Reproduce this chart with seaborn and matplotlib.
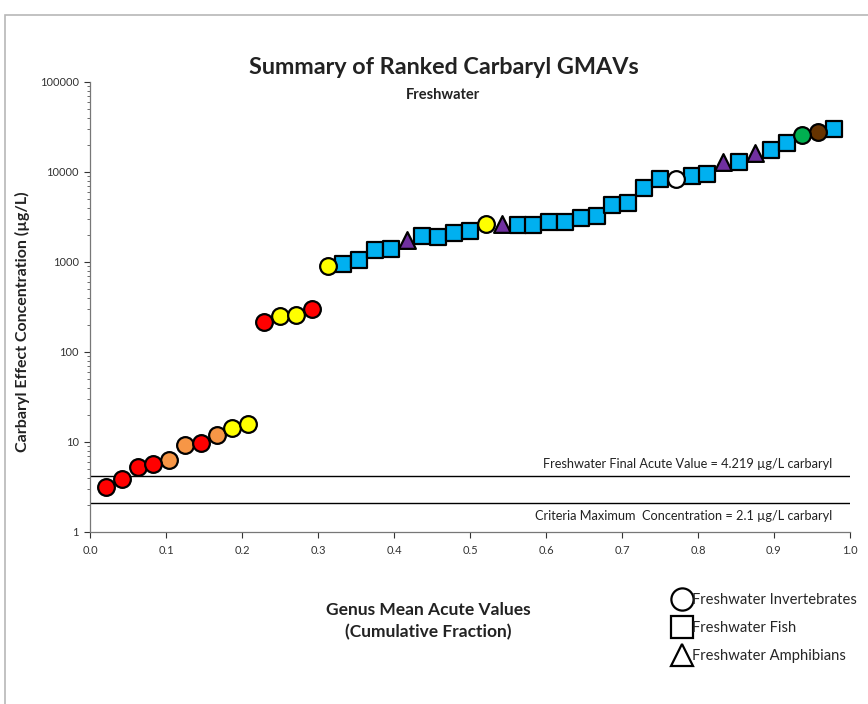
import numpy as np
import pandas as pd
import matplotlib
matplotlib.use("Agg")
import matplotlib.pyplot as plt
from matplotlib.lines import Line2D
from matplotlib.patches import Rectangle
import seaborn as sns

# ---- data ----
gmav = [3.2, 3.9, 5.3, 5.7, 6.3, 9.3, 9.8, 12, 14.3, 15.8,
        215, 250, 257, 300,
        900, 950, 1050, 1350, 1390, 1750, 1950, 1900, 2100, 2200,
        2650, 2650, 2600, 2600, 2800, 2800, 3100, 3250, 4300, 4500,
        6600, 8300, 8300, 9000, 9500, 13000, 12900, 16300, 17500, 21000,
        25800, 27800, 30000]
taxon = (["Invertebrates"] * 10 + ["Invertebrates"] * 4 + ["Invertebrates"]
         + ["Fish"] * 4 + ["Amphibians"] + ["Fish"] * 4 + ["Invertebrates"]
         + ["Amphibians"] + ["Fish"] * 10 + ["Invertebrates"] + ["Fish"] * 2
         + ["Amphibians", "Fish", "Amphibians", "Fish", "Fish",
            "Invertebrates", "Invertebrates", "Fish"])
fill = (["red", "red", "red", "red", "orange", "orange", "red", "orange", "yellow", "yellow"]
        + ["red", "yellow", "yellow", "red"]
        + ["yellow"] + ["blue"] * 4 + ["purple"] + ["blue"] * 4 + ["yellow"]
        + ["purple"] + ["blue"] * 10 + ["white"] + ["blue"] * 2
        + ["purple", "blue", "purple", "blue", "blue", "green", "brown", "blue"])
rank = list(range(1, len(gmav) + 1))

fav_value = 4.219
cmc_value = 2.1
fav_label = "Freshwater Final Acute Value = 4.219 µg/L carbaryl"
cmc_label = "Criteria Maximum  Concentration = 2.1 µg/L carbaryl"
legend_labels = ["Freshwater Invertebrates", "Freshwater Fish", "Freshwater Amphibians"]

palette = {"red": "#FF0000", "orange": "#F79646", "yellow": "#FFFF00",
           "blue": "#00B0F0", "purple": "#7030A0", "white": "#FFFFFF",
           "green": "#00B050", "brown": "#663300"}
marker_map = {"Invertebrates": "o", "Fish": "s", "Amphibians": "^"}
size_map = {"Invertebrates": 145, "Fish": 120, "Amphibians": 145}

n = len(gmav)
df = pd.DataFrame({"rank": rank, "gmav": gmav, "taxon": taxon, "fill": fill})
df["frac"] = df["rank"] / (n + 1)

# ---- figure ----
sns.set_theme(style="white")
plt.rcParams["font.family"] = ["Lato", "DejaVu Sans"]

fig = plt.figure(figsize=(8.68, 7.04), dpi=100)
fig.patch.set_facecolor("white")
fig.add_artist(Rectangle((5 / 868, -0.01), 1.0, (704 - 15) / 704 + 0.01,
                         transform=fig.transFigure, fill=False,
                         edgecolor="#b8b8b8", linewidth=1.2))

ax = fig.add_axes([90 / 868, (704 - 532) / 704, 760 / 868, 450 / 704])

for (tx, fc), sub in df.groupby(["taxon", "fill"]):
    sns.scatterplot(data=sub, x="frac", y="gmav", ax=ax, marker=marker_map[tx],
                    s=size_map[tx], color=palette[fc], edgecolor="black",
                    linewidth=1.6, zorder=3, legend=False)

ax.set_yscale("log")
ax.set_xlim(0, 1.0)
ax.set_ylim(1, 100000)
ax.set_xticks(np.arange(0, 1.01, 0.1))
ax.set_xticklabels([f"{v:.1f}" for v in np.arange(0, 1.01, 0.1)])
ax.set_yticks([1, 10, 100, 1000, 10000, 100000])
ax.set_yticklabels(["1", "10", "100", "1000", "10000", "100000"])
ax.tick_params(axis="both", labelsize=8, colors="#333333", length=4,
               width=0.8, direction="out")
ax.tick_params(axis="y", which="minor", length=2.5, width=0.6, left=True,
               color="#555555")
ax.tick_params(axis="x", which="major", bottom=True, pad=5)
ax.tick_params(axis="y", which="major", left=True, pad=4)
for s in ["top", "right"]:
    ax.spines[s].set_visible(False)
for s in ["left", "bottom"]:
    ax.spines[s].set_color("#777777")
    ax.spines[s].set_linewidth(0.9)
ax.set_xlabel("")
ax.set_ylabel("")

ax.axhline(fav_value, color="black", lw=1.0, zorder=1)
ax.axhline(cmc_value, color="black", lw=1.0, zorder=1)
ax.text(0.976, fav_value * 1.17, fav_label, ha="right", va="bottom",
        fontsize=9.2, color="#222222")
ax.text(0.976, cmc_value / 1.2, cmc_label, ha="right", va="top",
        fontsize=9.2, color="#222222")

# titles and labels
fig.text(444 / 868, 1 - 68 / 704, "Summary of Ranked Carbaryl GMAVs", ha="center",
         va="center", fontsize=16.8, fontweight="bold", color="#222222")
fig.text(443 / 868, 1 - 95 / 704, "Freshwater", ha="center", va="center",
         fontsize=10.5, fontweight="bold", color="#222222")
fig.text(22 / 868, 1 - 322 / 704, "Carbaryl Effect Concentration (µg/L)", rotation=90,
         ha="center", va="center", fontsize=11.5, fontweight="bold", color="#222222")
fig.text(428 / 868, 1 - 621 / 704, "Genus Mean Acute Values\n(Cumulative Fraction)",
         ha="center", va="center", fontsize=12.5, fontweight="bold", color="#222222",
         linespacing=1.45)

# legend
handles = [Line2D([], [], marker=m, linestyle="none", markersize=16,
                  markerfacecolor="white", markeredgecolor="black", markeredgewidth=1.6)
           for m in ["o", "s", "^"]]
leg = fig.legend(handles, legend_labels, loc="upper left",
                 bbox_to_anchor=(664 / 868, 1 - 586 / 704), frameon=False,
                 fontsize=10.6, handletextpad=-0.1, handlelength=1.5,
                 labelspacing=0.95, borderpad=0)

fig.savefig("out.png", dpi=100, facecolor="white")
